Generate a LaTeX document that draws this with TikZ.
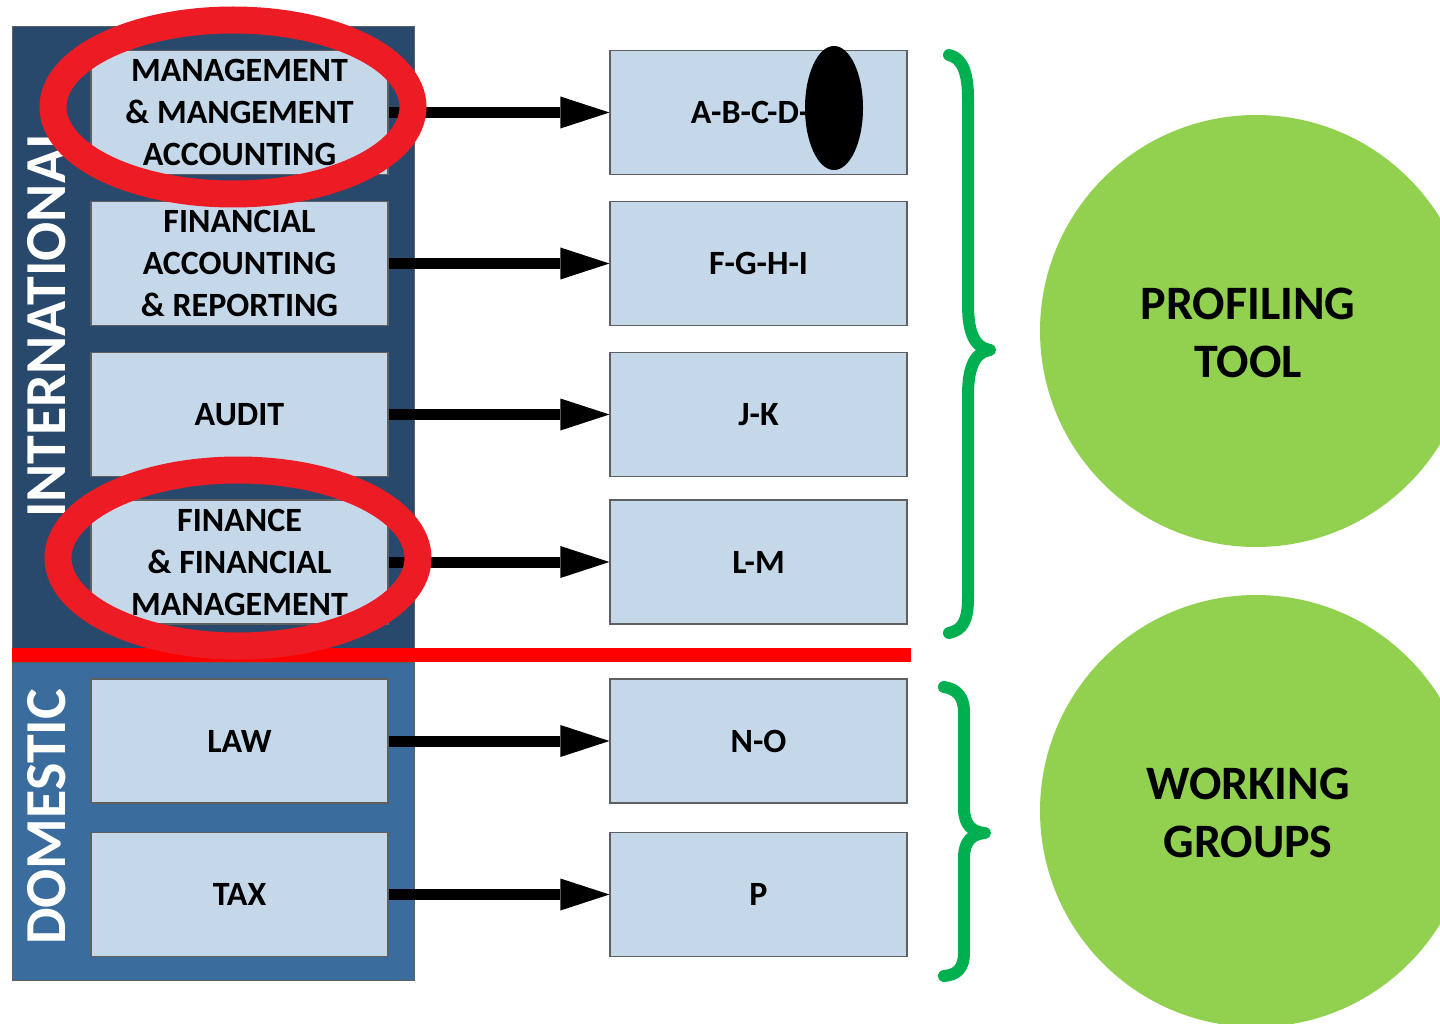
\documentclass[tikz,border=0pt]{standalone}
\usepackage{fontspec}
\setmainfont{Carlito}
\usetikzlibrary{arrows.meta}

\definecolor{intlblue}{RGB}{40,73,108}
\definecolor{domblue}{RGB}{58,108,157}
\definecolor{cellblue}{RGB}{197,216,233}
\definecolor{celledge}{RGB}{95,95,95}
\definecolor{ringred}{RGB}{237,28,36}
\definecolor{bracegreen}{RGB}{0,176,80}
\definecolor{hubgreen}{RGB}{146,208,80}

\newcommand\cellfont{\fontsize{34}{42}\selectfont\bfseries}
\newcommand\groupfont{\fontsize{58}{60}\selectfont\bfseries}
\newcommand\hubfont{\fontsize{48}{58}\selectfont\bfseries}

\def\intlpanel{(12,27) rectangle (414,648)}
\def\dompanel{(12,662) rectangle (414,980)}
\def\firstring{(233,107) ellipse [x radius=180pt, y radius=87pt]}
\def\secondring{(238,558) ellipse [x radius=180pt, y radius=88pt]}

\tikzset{
  subject/.style={draw=celledge, line width=1.2pt, fill=cellblue,
    minimum width=297pt, minimum height=124pt, inner sep=0pt,
    align=center, font=\cellfont},
  code/.style={subject},
  grouplabel/.style={text=white, font=\groupfont, inner sep=0pt,
    rotate=90, anchor=base west},
  feed/.style={line width=11pt,
    -{Triangle[length=49pt, width=32pt, line width=0pt]}},
  ring/.style={draw=ringred, line width=27pt},
  curly/.style={draw=bracegreen, line width=12pt, line cap=round,
    line join=round},
  hub/.style={circle, fill=hubgreen, minimum size=432pt, inner sep=0pt},
  hubtext/.style={align=center, font=\hubfont, inner sep=0pt,
    xshift=-8pt, yshift=-2pt}
}

\begin{document}
\begin{tikzpicture}[x=1pt, y=-1pt]
	\useasboundingbox (0,0) rectangle (1440,1024);
	\clip (0,0) rectangle (1440,1024);
	
	% panels
	\filldraw[fill=intlblue, draw=celledge, line width=1pt] \intlpanel;
	\filldraw[fill=domblue, draw=celledge, line width=1pt] \dompanel;
	\node[grouplabel] (intl) at (65,518) {INTERNATIONAL};
	\node[grouplabel] (dom) at (65,945) {DOMESTIC};
	
	% subjects
	\node[subject] (mma) at (239.5,112.5) {MANAGEMENT\\\& MANGEMENT\\ACCOUNTING};
	\node[subject] (far) at (239.5,263.5) {FINANCIAL\\ACCOUNTING\\\& REPORTING};
	\node[subject] (aud) at (239.5,414.5) {AUDIT};
	\node[subject] (ffm) at (239.5,562) {FINANCE\\\& FINANCIAL\\MANAGEMENT};
	\node[subject] (law) at (239.5,741) {LAW};
	\node[subject] (tax) at (239.5,894.5) {TAX};
	
	% codes
	\node[code] (abcd) at (758.5,112.5) {A-B-C-D-\phantom{E}};
	\node[code] (fghi) at (758.5,263.5) {F-G-H-I};
	\node[code] (jk) at (758.5,414.5) {J-K};
	\node[code] (lm) at (758.5,562) {L-M};
	\node[code] (no) at (758.5,741) {N-O};
	\node[code] (p) at (758.5,894.5) {P};
	
	\draw[feed] (mma) -- (abcd);
	\draw[feed] (far) -- (fghi);
	\draw[feed] (aud) -- (jk);
	\draw[feed] (ffm) -- (lm);
	\draw[feed] (law) -- (no);
	\draw[feed] (tax) -- (p);
	
	% split line and marks
	\fill[red] (12,648) rectangle (911,662);
	\draw[ring] \firstring;
	\draw[ring] \secondring;
	\fill[black] (834,108) ellipse [x radius=29pt, y radius=62pt];
	
	% braces
	\draw[curly] (949,55) .. controls (962,58) and (968,72) .. (968,98)
		-- (968,305) .. controls (968,335) and (976,348) .. (990,350)
		.. controls (976,352) and (968,365) .. (968,395)
		-- (968,598) .. controls (968,622) and (962,630) .. (949,633);
	\draw[curly] (944,687) .. controls (957,689) and (964,697) .. (964,712)
		-- (964,808) .. controls (964,825) and (972,832) .. (985,833)
		.. controls (972,834) and (964,841) .. (964,858)
		-- (964,953) .. controls (964,968) and (957,975) .. (944,976);
	
	\node[hub, label={[hubtext]center:PROFILING\\TOOL}] (tool) at (1256,331) {};
	\node[hub, label={[hubtext]center:WORKING\\GROUPS}] (groups) at (1256,811) {};
	
\end{tikzpicture}
\end{document}
